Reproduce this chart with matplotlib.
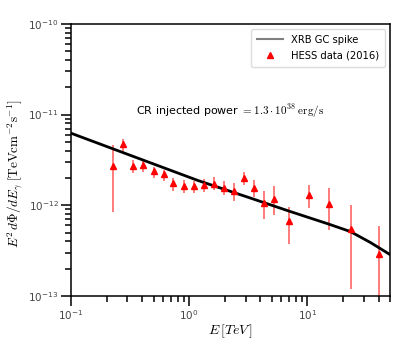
import numpy as np
import matplotlib
matplotlib.use('Agg')
import matplotlib.pyplot as plt
from matplotlib.lines import Line2D

plt.rcParams['mathtext.fontset'] = 'cm'
plt.rcParams['font.family'] = ['DejaVu Sans']

# model curve (XRB GC spike)
E_model = [0.1, 0.316, 1.19, 3.29, 7.18, 15.2, 23.1, 34.2, 50.5]
F_model = [6.23e-12, 3.56e-12, 1.87e-12, 1.20e-12, 8.51e-13, 6.18e-13, 5.12e-13, 3.87e-13, 2.83e-13]

# HESS data (2016)
E_hess = [0.228, 0.274, 0.335, 0.407, 0.502, 0.611, 0.736, 0.896, 1.09, 1.33, 1.62,
          1.95, 2.37, 2.88, 3.51, 4.32, 5.25, 7.03, 10.4, 15.2, 23.3, 40.2]
F_hess = [2.74e-12, 4.71e-12, 2.74e-12, 2.79e-12, 2.37e-12, 2.20e-12, 1.76e-12, 1.63e-12,
          1.63e-12, 1.66e-12, 1.73e-12, 1.54e-12, 1.43e-12, 2.00e-12, 1.55e-12, 1.07e-12,
          1.18e-12, 6.77e-13, 1.29e-12, 1.03e-12, 5.52e-13, 2.93e-13]
F_hi = [4.63e-12, 5.35e-12, 3.16e-12, 3.22e-12, 2.67e-12, 2.45e-12, 1.99e-12, 1.90e-12,
        1.87e-12, 1.94e-12, 2.07e-12, 1.86e-12, 1.75e-12, 2.35e-12, 1.90e-12, 1.45e-12,
        1.61e-12, 9.66e-13, 1.68e-12, 1.53e-12, 1.01e-12, 5.92e-13]
F_lo = [8.38e-13, 3.78e-12, 2.26e-12, 2.35e-12, 1.99e-12, 1.86e-12, 1.45e-12, 1.38e-12,
        1.36e-12, 1.41e-12, 1.48e-12, 1.28e-12, 1.12e-12, 1.69e-12, 1.23e-12, 7.02e-13,
        7.77e-13, 3.75e-13, 9.42e-13, 5.31e-13, 1.19e-13, 9.0e-14]

x_ticks = [0.1, 1, 10]
y_ticks = [1e-13, 1e-12, 1e-11, 1e-10]
subs = range(2, 10)
x_minor = [m * t for t in x_ticks for m in subs if m * t <= 50]
y_minor = [m * t for t in y_ticks[:-1] for m in subs]

F_hess = np.array(F_hess)
yerr = [F_hess - np.array(F_lo), np.array(F_hi) - F_hess]

fig = plt.figure(figsize=(4.15, 3.51), dpi=100)
ax = fig.add_axes([0.171, 0.157, 0.769, 0.775])

ax.errorbar(E_hess, F_hess, yerr=yerr, fmt='none', ecolor='red', alpha=0.6, elinewidth=1.2, zorder=2)
ax.plot(E_model, F_model, color='black', lw=2, zorder=3)
ax.plot(E_hess, F_hess, '^', color='red', ms=5, zorder=4)

ax.set_xscale('log')
ax.set_yscale('log')
ax.set_xticks(x_ticks)
ax.set_yticks(y_ticks)
ax.set_xticks(x_minor, minor=True)
ax.set_yticks(y_minor, minor=True)
ax.set_xticklabels([], minor=True)
ax.set_yticklabels([], minor=True)
ax.set_xlim(0.1, 50)
ax.set_ylim(1e-13, 1e-10)

ax.set_xlabel(r'$E\,[TeV\,]$', fontsize=10, labelpad=0)
ax.set_ylabel(r'$E^2\,d\Phi/dE_\gamma\;[\mathrm{TeV cm^{-2} s^{-1}}]$', fontsize=9.5)
ax.yaxis.set_label_coords(-0.145, 0.45)

ax.tick_params(which='major', length=7, width=1.1, color='black', pad=2,
               labelsize=7.5, labelcolor='#444444')
ax.tick_params(which='minor', length=4.5, width=1.1, color='black')
for s in ax.spines.values():
    s.set_linewidth(1.1)

ax.text(0.5, 0.68, r'CR injected power $= 1.3\cdot10^{38}\ \mathrm{erg/s}$',
        transform=ax.transAxes, ha='center', va='center', fontsize=8)

handles = [Line2D([], [], color='gray', lw=1.5),
           Line2D([], [], ls='none', marker='^', color='red', ms=5)]
ax.legend(handles, ['XRB GC spike', 'HESS data (2016)'], loc='upper right',
          fontsize=7.2, frameon=True, framealpha=1, edgecolor='#dddddd',
          handlelength=2.6, borderpad=0.6, labelspacing=0.6)

fig.savefig('out.png', dpi=100)
